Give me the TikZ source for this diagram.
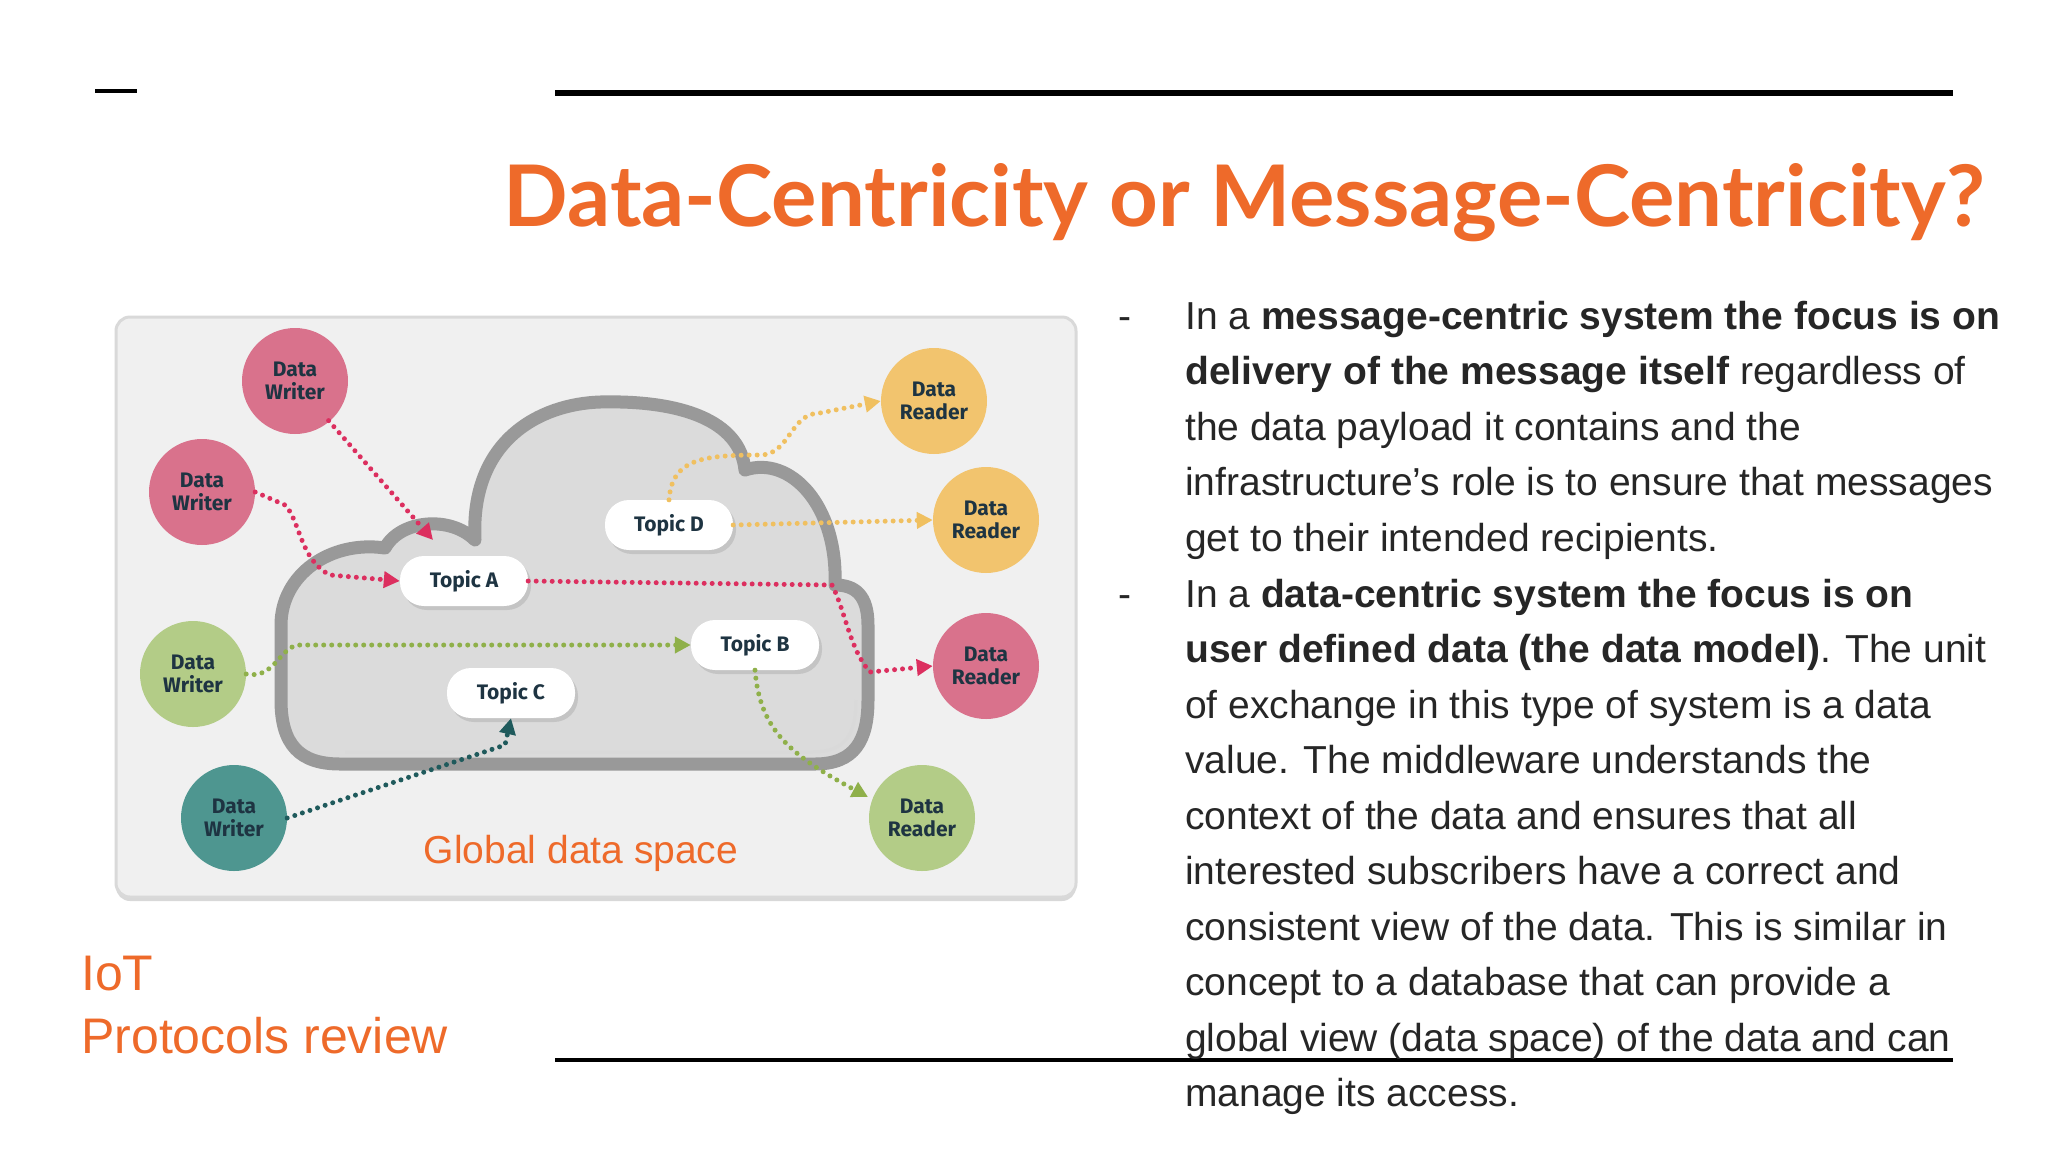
\documentclass[tikz,border=0pt]{standalone}
\usepackage{fontspec}
\setmainfont{Liberation Sans}
\newfontfamily\titlefont{Lato}
\newfontfamily\circfont{Fira Sans}
\usetikzlibrary{arrows.meta,shadows}
\definecolor{orng}{HTML}{EE6A2A}
\definecolor{cpink}{HTML}{D9728C}
\definecolor{cyel}{HTML}{F2C46E}
\definecolor{cgrn}{HTML}{B3CC87}
\definecolor{cteal}{HTML}{4E9690}
\definecolor{apink}{HTML}{DC2F5F}
\definecolor{ayel}{HTML}{F0C060}
\definecolor{agrn}{HTML}{8FB04A}
\definecolor{ateal}{HTML}{1F5A5C}
\definecolor{ctext}{HTML}{1E3442}
\tikzset{
  agent/.style={circle,minimum size=106pt,inner sep=0pt,align=center,font=\circfont\bfseries\fontsize{21}{23}\selectfont,text=ctext},
  topicbox/.style={rounded corners=24pt,fill=white,minimum width=128pt,minimum height=50pt,font=\circfont\bfseries\fontsize{21}{23}\selectfont,text=ctext,drop shadow={shadow xshift=3pt,shadow yshift=-4pt,opacity=0.25}},
  flow/.style={line width=5pt,dash pattern=on 0pt off 8pt,line cap=round,-{Triangle[length=16pt,width=16pt]}},
}
\begin{document}
\begin{tikzpicture}[x=1pt,y=-1pt]
\useasboundingbox (0,0) rectangle (2048,1152);
\fill[white] (0,0) rectangle (2048,1152);
% header rules
\draw[line width=4pt] (95,91) -- (137,91);
\draw[line width=6.5pt] (555,93) -- (1953,93);
\node[anchor=base east,text=orng,font=\titlefont\bfseries\fontsize{85}{92}\selectfont,inner sep=0pt] (title) at (1985,226) {Data-Centricity or Message-Centricity?};
% diagram panel
\node[draw=black!15,line width=3pt,fill=black!6,rounded corners=14pt,minimum width=960pt,minimum height=580pt,drop shadow={shadow xshift=0pt,shadow yshift=-4pt,opacity=0.3}] (panel) at (596,607) {};
% cloud
\path[fill=black!14,draw=black!40,line width=13pt,line join=round]
 (340,764) -- (815,764) .. controls (855,764) and (868,740) .. (868,700) -- (868,625)
 .. controls (868,595) and (855,585) .. (835,585)
 .. controls (838,505) and (790,455) .. (745,470)
 .. controls (740,420) and (680,400) .. (600,402)
 .. controls (540,404) and (470,440) .. (475,540)
 .. controls (450,515) and (400,520) .. (385,548)
 .. controls (330,540) and (281,575) .. (281,625) -- (281,700)
 .. controls (281,745) and (300,764) .. (340,764) -- cycle;
\path[draw=white!85!black,line width=3pt]
 (345,752) -- (812,752) .. controls (845,752) and (856,735) .. (856,700);
% agents
\node[agent,fill=cpink] (w1) at (295,381) {Data\\Writer};
\node[agent,fill=cpink] (w2) at (202,492) {Data\\Writer};
\node[agent,fill=cgrn] (w3) at (193,674) {Data\\Writer};
\node[agent,fill=cteal] (w4) at (234,818) {Data\\Writer};
\node[agent,fill=cyel] (r1) at (934,401) {Data\\Reader};
\node[agent,fill=cyel] (r2) at (986,520) {Data\\Reader};
\node[agent,fill=cpink] (r3) at (986,666) {Data\\Reader};
\node[agent,fill=cgrn] (r4) at (922,818) {Data\\Reader};
% topics
\node[topicbox] (ta) at (464,581) {Topic A};
\node[topicbox] (td) at (669,525) {Topic D};
\node[topicbox] (tb) at (755,645) {Topic B};
\node[topicbox] (tc) at (511,693) {Topic C};
% flows
\coordinate (a1) at (433,540);
\draw[flow,apink] (w1.south east) ++(-4,2) -- (a1);
\draw[flow,apink] (w2.east) -- (285,505) .. controls (300,520) and (300,560) .. (330,575) -- (ta.west);
\draw[flow,apink] (ta.east) -- (832,585) .. controls (845,610) and (850,650) .. (870,672) -- (r3.west);
\draw[flow,agrn] (w3.east) .. controls (275,680) and (280,645) .. (300,645) -- (tb.west);
\draw[flow,ateal] (w4.east) -- (505,745) -- (tc.south);
\coordinate (g4) at (868,797);
\draw[flow,agrn] (tb.south) .. controls (760,730) and (790,755) .. (g4);
\draw[flow,ayel] (td.north) .. controls (672,460) and (700,455) .. (760,455) .. controls (790,455) and (790,413) .. (820,413) -- (r1.west);
\draw[flow,ayel] (td.east) -- (r2.west);
\node[text=orng,font=\fontsize{39}{44}\selectfont] (gds) at (581,853) {Global data space};
% left labels
\node[anchor=base west,text=orng,font=\fontsize{50}{62}\selectfont,inner sep=0pt,align=left] (iot) at (81,990) {IoT};
\node[anchor=base west,text=orng,font=\fontsize{50}{62}\selectfont,inner sep=0pt] (prot) at (81,1053) {Protocols review};
% bottom rule
\draw[line width=3.5pt] (555,1060) -- (1953,1060);
% body text
\begin{scope}[every node/.style={anchor=base west,inner sep=0pt,font=\fontsize{39}{44}\selectfont,text=black!85}]
\node (b1) at (1118,329) {-};
\node (b2) at (1118,607) {-};
\node (l1) at (1185,329) {In a \textbf{message-centric system the focus is on}};
\node (l2) at (1185,384.5) {\textbf{delivery of the message itself} regardless of};
\node (l3) at (1185,440) {the data payload it contains and the};
\node (l4) at (1185,495.5) {infrastructure's role is to ensure that messages};
\node (l5) at (1185,551) {get to their intended recipients.};
\node (l6) at (1185,607) {In a \textbf{data-centric system the focus is on}};
\node (l7) at (1185,662.5) {\textbf{user defined data (the data model)}. The unit};
\node (l8) at (1185,718) {of exchange in this type of system is a data};
\node (l9) at (1185,773.5) {value. The middleware understands the};
\node (l10) at (1185,829) {context of the data and ensures that all};
\node (l11) at (1185,884.5) {interested subscribers have a correct and};
\node (l12) at (1185,940) {consistent view of the data. This is similar in};
\node (l13) at (1185,995.5) {concept to a database that can provide a};
\node (l14) at (1185,1051) {global view (data space) of the data and can};
\node (l15) at (1185,1106.5) {manage its access.};
\end{scope}
\end{tikzpicture}
\end{document}
